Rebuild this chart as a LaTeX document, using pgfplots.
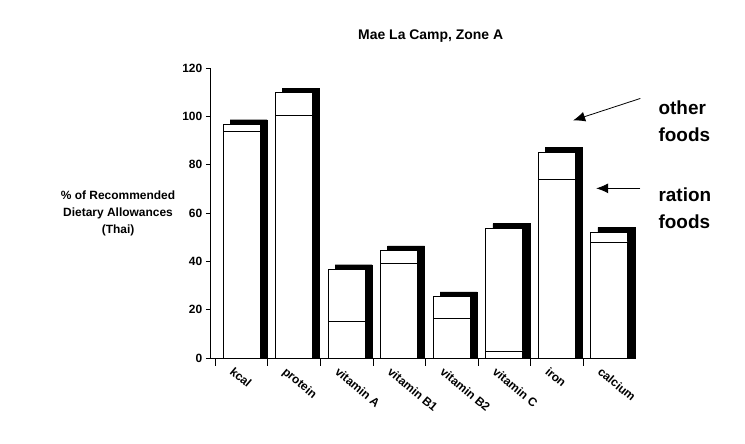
\documentclass[border=0pt]{standalone}
\usepackage{pgfplots}
\pgfplotsset{compat=1.18}
\usetikzlibrary{arrows.meta}
\usepackage{fontspec}
\setmainfont{Liberation Sans}
\begin{document}
\begin{tikzpicture}[x=1bp,y=1bp]
\path[use as bounding box] (0,0) rectangle (745,444);
\begin{axis}[at={(210bp,86bp)},anchor=south west,
  scale only axis, width=423bp, height=290bp,
  xmin=-0.6, xmax=7.45, ymin=0, ymax=120,
  axis x line=bottom, axis y line=left, axis line style={-,thick},
  ytick={0,20,...,120}, xtick={0,...,7},
  xticklabels={kcal,protein,vitamin A,vitamin B1,vitamin B2,vitamin C,iron,calcium},
  x tick label style={rotate=-40,anchor=north west,font=\bfseries\fontsize{12}{14}\selectfont,xshift=-6bp,yshift=-4bp},
  y tick label style={font=\bfseries\fontsize{12}{14}\selectfont},
  /pgf/number format/assume math mode=true,
  minor xtick={-0.5,0.5,...,7.5},
  minor tick length=8bp, minor x tick style={thick,black},
  major x tick style={draw=none},
  tick align=outside, ytick style={thick,black},
  clip=false, ybar, bar width=37bp,
]
\addplot[fill=black,draw=black,bar shift=7bp] coordinates {(0,98.6)(1,111.7)(2,38.6)(3,46.4)(4,27.4)(5,55.6)(6,87.2)(7,54.1)};
\addplot[fill=white,draw=black,thick,bar shift=0bp] coordinates {(0,96.6)(1,109.7)(2,36.6)(3,44.4)(4,25.4)(5,53.6)(6,85.2)(7,52.1)};
\addplot[fill=white,draw=black,thick,bar shift=0bp] coordinates {(0,93.9)(1,100.3)(2,15.3)(3,39.2)(4,16.2)(5,2.9)(6,73.7)(7,48)};
\draw[-{Latex[length=12bp,width=10bp]},thick] (axis cs:7.59,107.4) -- (axis cs:6.31,98.3);
\draw[-{Latex[length=12bp,width=10bp]},thick] (axis cs:7.59,70.2) -- (axis cs:6.75,70.2);
\node[anchor=west,font=\bfseries\fontsize{19}{27}\selectfont,align=left] at (axis cs:7.87,98) {other\\foods};
\node[anchor=west,font=\bfseries\fontsize{19}{27}\selectfont,align=left] at (axis cs:7.87,62) {ration\\foods};
\node[font=\bfseries\fontsize{12}{17}\selectfont,align=center] at (axis cs:-2.35,60) {\% of Recommended\\Dietary Allowances\\(Thai)};
\node[font=\bfseries\fontsize{14}{17}\selectfont] at (axis cs:3.6,133) {Mae La Camp, Zone A};
\end{axis}
\end{tikzpicture}
\end{document}
